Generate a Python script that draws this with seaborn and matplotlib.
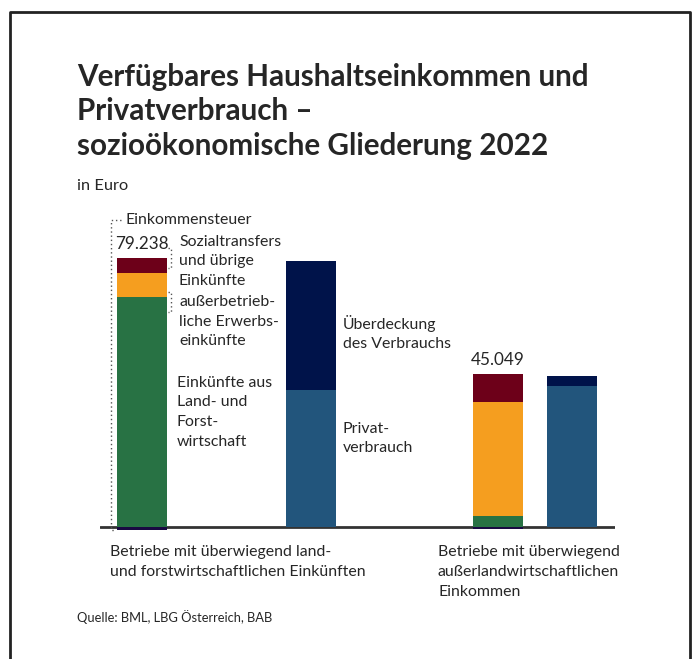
import matplotlib.pyplot as plt
import seaborn as sns
import pandas as pd
from matplotlib.lines import Line2D

# Werte in Euro je Balken: LF-Einkommen, LF-Verbrauch, AL-Einkommen, AL-Verbrauch
bar_kind = ["Einkommen", "Verbrauch", "Einkommen", "Verbrauch"]
land_forst = [67760, 0, 3330, 0]
ausserbetrieblich = [7070, 0, 33470, 0]
sozialtransfers = [4408, 0, 8249, 0]
einkommensteuer = [-880, 0, -560, 0]
privatverbrauch = [0, 40360, 0, 41540]
ueberdeckung = [0, 38010, 0, 2950]

group_labels = [
    ["Betriebe mit überwiegend land-", "und forstwirtschaftlichen Einkünften"],
    ["Betriebe mit überwiegend", "außerlandwirtschaftlichen", "Einkommen"],
]

# layout (pixel units of the 697x659 picture)
W, H = 697, 659
bar_pos = [142, 311, 498, 572]
bar_w = 50

RED = "#6d0019"
ORANGE = "#f59e1f"
GREEN = "#287244"
NAVY = "#00134a"
BLUE = "#22557c"
PURPLE = "#190a42"
TXT = "#262626"

sns.set_theme(style="white")
plt.rcParams["font.family"] = ["Lato", "DejaVu Sans"]

fig = plt.figure(figsize=(W / 100, H / 100), dpi=100)


def fx(x):
    return x / W


def fy(y):
    return 1 - y / H


def put(x, y, lines, size=11.4, step=19.5, **kw):
    for i, line in enumerate(lines):
        fig.text(fx(x), fy(y + i * step), line, fontsize=size, va="baseline",
                 color=TXT, **kw)


def dotted(xs, ys):
    fig.add_artist(Line2D([fx(v) for v in xs], [fy(v) for v in ys],
                          color="#555555", lw=1, ls=(0, (1, 2))))


# frame (open at the bottom)
fig.add_artist(Line2D([fx(10), fx(10), fx(690), fx(690)],
                      [fy(H), fy(12), fy(12), fy(H)], color="#222222", lw=2))

# axes: baseline at y=527 px, 269 px for the 79.238 bar
ax_top, ax_bot, base = 250, 540, 527
per_px = (land_forst[0] + ausserbetrieblich[0] + sozialtransfers[0]) / (base - 258)
ax = fig.add_axes([fx(100), fy(ax_bot), (615 - 100) / W, (ax_bot - ax_top) / H])

df = pd.DataFrame({
    "pos": bar_pos,
    "kind": bar_kind,
    "lf": land_forst,
    "ab": ausserbetrieblich,
    "st": sozialtransfers,
    "est": einkommensteuer,
    "pv": privatverbrauch,
    "ue": ueberdeckung,
})
df["top"] = df["lf"] + df["ab"] + df["st"] + df["pv"] + df["ue"]
df["mid"] = df["lf"] + df["ab"] + df["pv"]

layers = [
    ("top", {"Einkommen": RED, "Verbrauch": NAVY}),
    ("mid", {"Einkommen": ORANGE, "Verbrauch": BLUE}),
    ("lf", {"Einkommen": GREEN, "Verbrauch": BLUE}),
    ("est", {"Einkommen": PURPLE, "Verbrauch": PURPLE}),
]
for col, pal in layers:
    sns.barplot(data=df, x="pos", y=col, hue="kind", palette=pal, native_scale=True,
                width=bar_w / 74, dodge=False, errorbar=None, legend=False,
                saturation=1, linewidth=0, ax=ax)

ax.axhline(0, color="#333333", lw=2, zorder=0.5)
ax.set_xlim(100, 615)
ax.set_ylim(-(ax_bot - base) * per_px, (base - ax_top) * per_px)
ax.axis("off")

for i in [0, 2]:
    total = df["lf"][i] + df["ab"][i] + df["st"][i]
    ax.annotate(f"{total:,}".replace(",", "."), (bar_pos[i], total), xytext=(0, 6.5),
                textcoords="offset points", ha="center", va="baseline",
                fontsize=12.3, color=TXT)

# titles
put(77, 86, ["Verfügbares Haushaltseinkommen und", "Privatverbrauch –",
             "sozioökonomische Gliederung 2022"], size=21.3, step=34.5, fontweight="bold")
put(77, 190, ["in Euro"], size=11.8)

# annotations
put(125, 224, ["Einkommensteuer"])
dotted([121, 111, 111, 116], [220, 220, 530, 530])
put(179, 246, ["Sozialtransfers", "und übrige", "Einkünfte"])
dotted([168, 171, 171, 168], [248, 248, 268, 268])
put(179, 306, ["außerbetrieb-", "liche Erwerbs-", "einkünfte"])
dotted([168, 171, 171, 168], [292, 292, 312, 312])
put(177, 387, ["Einkünfte aus", "Land- und", "Forst-", "wirtschaft"])
put(343, 329, ["Überdeckung", "des Verbrauchs"])
put(343, 433, ["Privat-", "verbrauch"])

put(110, 556, group_labels[0], step=20)
put(438, 556, group_labels[1], step=20)

put(77, 622, ["Quelle: BML, LBG Österreich, BAB"], size=9.3)

fig.savefig("out.png", dpi=100)
